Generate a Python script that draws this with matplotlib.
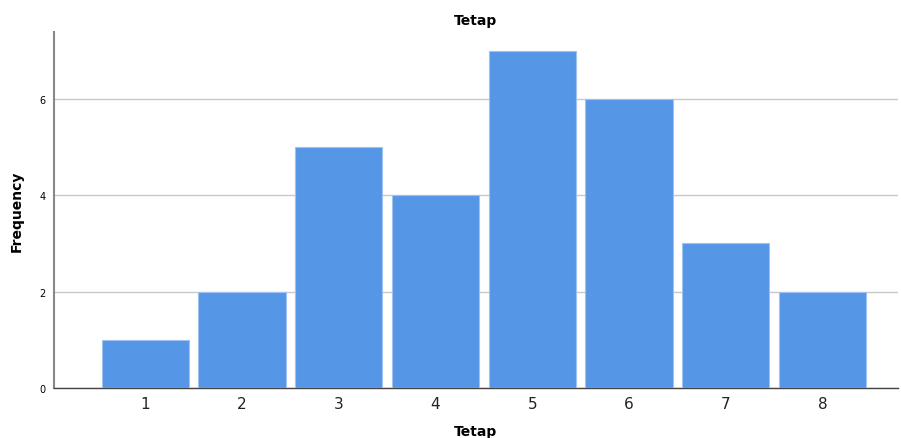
import matplotlib.pyplot as plt

# -------------------
# Data

categories = [1, 2, 3, 4, 5, 6, 7, 8]
frequency = [1, 2, 5, 4, 7, 6, 3, 2]
y_ticks = [0, 2, 4, 6]

plt.rcParams['font.family'] = 'DejaVu Sans'

fig = plt.figure(figsize=(9.01, 4.39), dpi=100)
ax = fig.add_axes([0.0599, 0.1139, 0.9368, 0.8109])

ax.bar(categories, frequency, width=0.9, color="#5596E6",
       edgecolor="#9fc2f0", linewidth=0.8, zorder=3)

ax.set_xlim(0.057, 8.78)
ax.set_ylim(0, 7.39)
ax.set_yticks(y_ticks)
ax.set_xticks(categories)
ax.tick_params(axis='y', length=0, labelsize=7, pad=6)
ax.tick_params(axis='x', length=0, labelsize=11, pad=6, labelcolor="#222222")

ax.yaxis.grid(True, color="#c8c8c8", linewidth=1, zorder=0)
ax.set_axisbelow(True)

for spine in ['top', 'right']:
    ax.spines[spine].set_visible(False)
ax.spines['left'].set_color("#888888")
ax.spines['left'].set_linewidth(1.5)
ax.spines['bottom'].set_color("#444444")
ax.spines['bottom'].set_linewidth(1)

ax.set_title("Tetap", fontsize=10, fontweight='bold', pad=6)
ax.set_ylabel("Frequency", fontsize=10, fontweight='bold', labelpad=11)
ax.set_xlabel("Tetap", fontsize=10, fontweight='bold', labelpad=9)

fig.savefig("out.png", dpi=100)
